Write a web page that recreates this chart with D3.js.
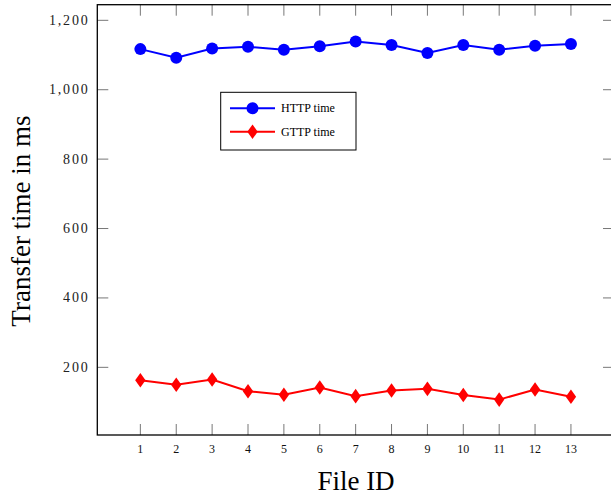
<!DOCTYPE html>
<html>
<head>
<meta charset="utf-8">
<script src="https://cdn.jsdelivr.net/npm/d3@7"></script>
<style>
  body { margin: 0; background: #fff; }
  svg { display: block; }
  .ylab { font-family: "Liberation Serif", serif; font-size: 14px; letter-spacing: 1.8px; fill: #222; }
  .xlab { font-family: "Liberation Serif", serif; font-size: 12px; fill: #111; }
  .title { font-family: "Liberation Serif", serif; font-size: 27px; fill: #000; }
  .leg { font-family: "Liberation Serif", serif; font-size: 12px; fill: #000; }
</style>
</head>
<body>
<div id="chart"></div>
<script>
// file IDs on the x axis
const FILE_IDS = [1, 2, 3, 4, 5, 6, 7, 8, 9, 10, 11, 12, 13];
// transfer times (ms)
const HTTP_TIME = [1117, 1092, 1119, 1124, 1115, 1125, 1139, 1129, 1106, 1129, 1115, 1127, 1132];
const GTTP_TIME = [163, 150, 165, 131, 121, 142, 117, 133, 138, 120, 107, 136, 115];
const Y_TICKS = [200, 400, 600, 800, 1000, 1200];

const W = 611, H = 497;
const svg = d3.select("#chart").append("svg").attr("width", W).attr("height", H);

// pgfplots-style enlarged limits
const x = d3.scaleLinear().domain([-0.2, 14.2]).range([97.3, 614]);
const y = d3.scaleLinear().domain([5, 1245]).range([435, 4.7]);
const [x0, x1] = x.range(), [y0, y1] = y.range();
const TICK = 11;

// inward ticks on all four sides
const ticks = svg.append("g").attr("stroke", "#777").attr("stroke-width", 1);
Y_TICKS.forEach(v => {
  ticks.append("line").attr("x1", x0).attr("x2", x0 + TICK).attr("y1", y(v)).attr("y2", y(v));
  ticks.append("line").attr("x1", x1 - TICK).attr("x2", x1).attr("y1", y(v)).attr("y2", y(v));
});
FILE_IDS.forEach(v => {
  ticks.append("line").attr("x1", x(v)).attr("x2", x(v)).attr("y1", y0).attr("y2", y0 - TICK);
  ticks.append("line").attr("x1", x(v)).attr("x2", x(v)).attr("y1", y1).attr("y2", y1 + TICK);
});

// frame
svg.append("rect").attr("x", x0).attr("y", y1).attr("width", x1 - x0).attr("height", y0 - y1)
    .attr("fill", "none").attr("stroke", "#000").attr("stroke-width", 1.3);

// tick labels
const fmt = d3.format(",");
svg.selectAll(".ylab").data(Y_TICKS).join("text").attr("class", "ylab")
    .attr("x", 89.5).attr("y", d => y(d) + 4.5).attr("text-anchor", "end").text(d => fmt(d));
svg.selectAll(".xlab").data(FILE_IDS).join("text").attr("class", "xlab")
    .attr("x", d => x(d)).attr("y", 453).attr("text-anchor", "middle").text(d => d);

// axis titles
svg.append("text").attr("class", "title").attr("x", 356).attr("y", 490)
    .attr("text-anchor", "middle").text("File ID");
svg.append("text").attr("class", "title").attr("text-anchor", "middle")
    .attr("transform", "translate(30,221) rotate(-90)").text("Transfer time in ms");

const line = d3.line().x((d, i) => x(FILE_IDS[i])).y(d => y(d));
const diamond = (cx, cy, s) => `M${cx},${cy - s * 1.4}L${cx + s},${cy}L${cx},${cy + s * 1.4}L${cx - s},${cy}Z`;

// HTTP series
svg.append("path").datum(HTTP_TIME).attr("d", line)
    .attr("fill", "none").attr("stroke", "#0000ff").attr("stroke-width", 2);
svg.selectAll(".dot").data(HTTP_TIME).join("circle").attr("class", "dot")
    .attr("cx", (d, i) => x(FILE_IDS[i])).attr("cy", d => y(d)).attr("r", 6).attr("fill", "#0000ff");

// GTTP series
svg.append("path").datum(GTTP_TIME).attr("d", line)
    .attr("fill", "none").attr("stroke", "#ff0000").attr("stroke-width", 2);
svg.selectAll(".dia").data(GTTP_TIME).join("path").attr("class", "dia")
    .attr("d", (d, i) => diamond(x(FILE_IDS[i]), y(d), 5.2)).attr("fill", "#ff0000");

// legend
const leg = svg.append("g");
leg.append("rect").attr("x", 220.7).attr("y", 92.3).attr("width", 135.3).attr("height", 57.7)
    .attr("fill", "#fff").attr("stroke", "#000").attr("stroke-width", 1);
const entries = [
  { label: "HTTP time", color: "#0000ff", shape: "circle", y: 108.3 },
  { label: "GTTP time", color: "#ff0000", shape: "diamond", y: 131.7 }
];
entries.forEach(e => {
  leg.append("line").attr("x1", 230).attr("x2", 275).attr("y1", e.y).attr("y2", e.y)
      .attr("stroke", e.color).attr("stroke-width", 2);
  if (e.shape === "circle")
    leg.append("circle").attr("cx", 252.5).attr("cy", e.y).attr("r", 6).attr("fill", e.color);
  else
    leg.append("path").attr("d", diamond(252.5, e.y, 5.2)).attr("fill", e.color);
  leg.append("text").attr("class", "leg").attr("x", 281).attr("y", e.y + 4).text(e.label);
});
</script>
</body>
</html>
